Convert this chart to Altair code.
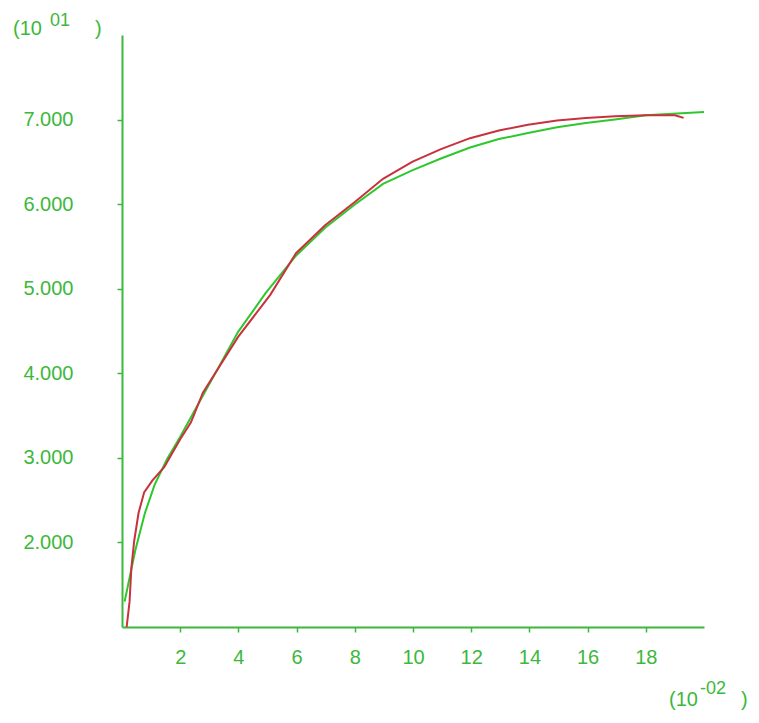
import altair as alt
import pandas as pd

# Fitted (green) curve
green_x = [0.09, 0.21, 0.46, 0.79, 1.12, 1.54, 2.0, 2.45, 3.11, 3.99, 4.94, 5.98, 6.98,
           7.98, 8.97, 9.97, 10.96, 11.96, 12.95, 13.95, 14.95, 15.94, 16.94, 18.0, 20.0]
green_y = [1.30, 1.50, 1.91, 2.35, 2.68, 2.98, 3.25, 3.53, 3.94, 4.49, 4.95, 5.39, 5.72,
           5.99, 6.24, 6.40, 6.54, 6.67, 6.77, 6.84, 6.91, 6.96, 7.00, 7.05, 7.09]

# Measured (red) curve
red_x = [0.16, 0.26, 0.32, 0.42, 0.57, 0.76, 1.04, 1.45, 2.0, 2.37, 2.78, 3.99, 5.10, 5.98,
         6.98, 7.98, 8.97, 9.97, 10.96, 11.96, 12.95, 13.95, 14.95, 15.94, 16.94, 18.0, 19.0, 19.3]
red_y = [1.00, 1.30, 1.69, 2.02, 2.35, 2.59, 2.73, 2.89, 3.22, 3.42, 3.77, 4.43, 4.93, 5.42,
         5.75, 6.02, 6.30, 6.50, 6.65, 6.78, 6.87, 6.94, 6.99, 7.02, 7.04, 7.05, 7.05, 7.02]

x_ticks = [2, 4, 6, 8, 10, 12, 14, 16, 18]
y_ticks = [2, 3, 4, 5, 6, 7]

y_exp_base = "(10"
y_exp_power = "01"
x_exp_base = "(10"
x_exp_power = "-02"
close_paren = ")"

GREEN_AXIS = "#3cb83c"
GREEN_LINE = "#2ec82e"
RED_LINE = "#c8323c"
FONT = "Liberation Sans"

green_df = pd.DataFrame({"x": green_x, "y": green_y, "s": "fit"})
red_df = pd.DataFrame({"x": red_x, "y": red_y, "s": "data"})

x_enc = alt.X("x:Q", scale=alt.Scale(domain=[0, 20], nice=False, zero=False),
              axis=alt.Axis(values=x_ticks, title=None, grid=False, labelFlush=False))
y_enc = alt.Y("y:Q", scale=alt.Scale(domain=[1, 8], nice=False, zero=False),
              axis=alt.Axis(values=y_ticks, format=".3f", title=None, grid=False,
                            labelPadding=44, labelFlush=False))

green_line = alt.Chart(green_df).mark_line(color=GREEN_LINE, strokeWidth=2).encode(
    x=x_enc, y=y_enc, order="x:Q")
red_line = alt.Chart(red_df).mark_line(color=RED_LINE, strokeWidth=2).encode(
    x=x_enc, y=y_enc, order="x:Q")


def label(text, px, py, size=20, baseline="middle"):
    return alt.Chart(pd.DataFrame({"t": [text]})).mark_text(
        align="left", baseline=baseline, font=FONT, fontSize=size, color=GREEN_AXIS
    ).encode(x=alt.value(px), y=alt.value(py), text="t:N")


annos = [
    label(y_exp_base, -109, -6),
    label(y_exp_power, -72, -14, 18),
    label(close_paren, -27, -6),
    label(x_exp_base, 547, 671, baseline="alphabetic"),
    label(x_exp_power, 578, 654, 18),
    label(close_paren, 619, 671, baseline="alphabetic"),
]

chart = alt.layer(green_line, red_line, *annos).properties(
    width=582, height=592,
    autosize=alt.AutoSizeParams(type="none"),
    padding={"left": 114, "top": 27, "right": 47, "bottom": 84},
).configure_view(stroke=None).configure_axis(
    domainColor=GREEN_AXIS, domainWidth=2, tickColor=GREEN_AXIS, tickSize=5, tickWidth=1.5,
    labelColor=GREEN_AXIS, labelFont=FONT, labelFontSize=20,
).configure_axisX(labelPadding=15)

chart.save("out.html", embed_options={"renderer": "svg", "actions": False})
